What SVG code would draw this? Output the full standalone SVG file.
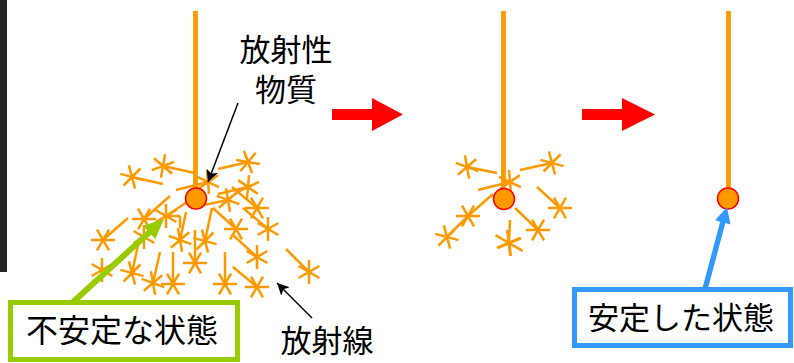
<svg xmlns="http://www.w3.org/2000/svg" xmlns:xlink="http://www.w3.org/1999/xlink" width="794" height="363" viewBox="0 0 794 363">
  <style>
    .ray { stroke: #FF9900; stroke-width: 2.5; fill: none; }
    .string { stroke: #FF9900; stroke-width: 4.8; }
    .ball { fill: #FF9900; stroke: #FF0000; stroke-width: 1.5; }
    .label { font-family: "Liberation Sans", "Noto Sans CJK JP", sans-serif; font-size: 31px; fill: #000; text-anchor: middle; }
    .pointer { stroke: #000; stroke-width: 1.5; fill: none; marker-end: url(#tip); }
  </style>
  <defs>
    <!-- six-spoke burst used for each emitted ray -->
    <g id="ast">
      <line x1="-12" y1="0" x2="12" y2="0"/>
      <line x1="-6" y1="-10.4" x2="6" y2="10.4"/>
      <line x1="-6" y1="10.4" x2="6" y2="-10.4"/>
    </g>
    <marker id="tip" markerUnits="userSpaceOnUse" markerWidth="14" markerHeight="12" refX="12" refY="6" orient="auto">
      <path d="M0,0 L12,6 L0,12 L3,6 Z" fill="#000"/>
    </marker>
  </defs>

  <rect x="0" y="0" width="7" height="272" fill="#232823"/>

  <!-- radiation burst around the unstable source -->
  <g id="rays-left" class="ray">
    <line x1="132" y1="177" x2="163" y2="184"/><use href="#ast" transform="translate(132,177) rotate(15)"/>
    <line x1="163" y1="166" x2="195" y2="173"/><use href="#ast" transform="translate(163,166) rotate(40)"/>
    <line x1="208" y1="182" x2="176" y2="190"/><use href="#ast" transform="translate(208,182) rotate(25)"/>
    <line x1="248" y1="162" x2="218" y2="169"/><use href="#ast" transform="translate(248,162) rotate(10)"/>
    <line x1="248" y1="187" x2="218" y2="194"/><use href="#ast" transform="translate(248,187) rotate(35)"/>
    <line x1="228" y1="200" x2="204" y2="205"/><use href="#ast" transform="translate(228,200) rotate(20)"/>
    <line x1="257" y1="208" x2="232" y2="187"/><use href="#ast" transform="translate(257,208) rotate(0)"/>
    <line x1="268" y1="229" x2="243" y2="208"/><use href="#ast" transform="translate(268,229) rotate(30)"/>
    <line x1="236" y1="229" x2="213" y2="208"/><use href="#ast" transform="translate(236,229) rotate(0)"/>
    <line x1="257" y1="257" x2="233" y2="235"/><use href="#ast" transform="translate(257,257) rotate(30)"/>
    <line x1="257" y1="287" x2="233" y2="267"/><use href="#ast" transform="translate(257,287) rotate(0)"/>
    <line x1="225" y1="284" x2="225" y2="252"/><use href="#ast" transform="translate(225,284) rotate(0)"/>
    <line x1="309" y1="272" x2="286" y2="249"/><use href="#ast" transform="translate(309,272) rotate(30)"/>
    <line x1="205" y1="241" x2="212" y2="208"/><use href="#ast" transform="translate(205,241) rotate(15)"/>
    <line x1="195" y1="263" x2="195" y2="230"/><use href="#ast" transform="translate(195,263) rotate(0)"/>
    <line x1="180" y1="240" x2="186" y2="212"/><use href="#ast" transform="translate(180,240) rotate(20)"/>
    <line x1="166" y1="216" x2="190" y2="200"/><use href="#ast" transform="translate(166,216) rotate(30)"/>
    <line x1="144" y1="219" x2="170" y2="196"/><use href="#ast" transform="translate(144,219) rotate(0)"/>
    <use href="#ast" transform="translate(144,237) rotate(30)"/>
    <line x1="103" y1="240" x2="128" y2="218"/><use href="#ast" transform="translate(103,240) rotate(0)"/>
    <use href="#ast" transform="translate(102,270) rotate(30)"/>
    <line x1="132" y1="273" x2="138" y2="245"/><use href="#ast" transform="translate(132,273) rotate(15)"/>
    <line x1="153" y1="283" x2="160" y2="252"/><use href="#ast" transform="translate(153,283) rotate(20)"/>
    <line x1="173" y1="284" x2="173" y2="252"/><use href="#ast" transform="translate(173,284) rotate(0)"/>
    <line x1="166" y1="216" x2="180" y2="216"/><line x1="180" y1="216" x2="180" y2="228"/>
  </g>

  <!-- fewer rays after partial decay -->
  <g id="rays-mid" class="ray">
    <line x1="467" y1="167" x2="497" y2="173"/><use href="#ast" transform="translate(467,167) rotate(20)"/>
    <line x1="510" y1="182" x2="478" y2="190"/><use href="#ast" transform="translate(510,182) rotate(25)"/>
    <line x1="552" y1="163" x2="520" y2="170"/><use href="#ast" transform="translate(552,163) rotate(15)"/>
    <line x1="560" y1="208" x2="537" y2="187"/><use href="#ast" transform="translate(560,208) rotate(0)"/>
    <line x1="538" y1="230" x2="515" y2="208"/><use href="#ast" transform="translate(538,230) rotate(0)"/>
    <line x1="509" y1="243" x2="510" y2="220"/><use href="#ast" transform="translate(509,243) rotate(30) scale(1.3,1)"/>
    <line x1="468" y1="216" x2="493" y2="194"/><use href="#ast" transform="translate(468,216) rotate(0)"/>
    <line x1="447" y1="237" x2="468" y2="216"/><use href="#ast" transform="translate(447,237) rotate(15)"/>
  </g>

  <g id="source-unstable">
    <line class="string" x1="195.5" y1="11" x2="195.5" y2="189"/>
    <circle class="ball" cx="196" cy="198.5" r="10.5"/>
  </g>
  <g id="source-decaying">
    <line class="string" x1="503.5" y1="11" x2="503.5" y2="189"/>
    <circle class="ball" cx="504" cy="199" r="10.5"/>
  </g>
  <g id="source-stable">
    <line class="string" x1="728.5" y1="11" x2="728.5" y2="189"/>
    <circle class="ball" cx="728" cy="198.5" r="10.5"/>
  </g>

  <g id="label-substance">
    <text class="label" x="286" y="61">放射性</text>
    <text class="label" x="286" y="101">物質</text>
  </g>
  <g id="label-radiation">
    <text class="label" x="327" y="352">放射線</text>
  </g>

  <g id="box-unstable">
    <rect x="10.5" y="302.5" width="227" height="57" fill="#fff" stroke="#99CC00" stroke-width="5"/>
    <text class="label" x="122" y="342" style="font-size:32px">不安定な状態</text>
  </g>
  <g id="box-stable">
    <rect x="574.5" y="289.5" width="216" height="56" fill="#fff" stroke="#3399FF" stroke-width="5"/>
    <text class="label" x="681" y="329" style="font-size:31px">安定した状態</text>
  </g>

  <g id="connectors">
    <polygon fill="#FF0000" points="332,109 372,109 372,98 403,114.5 372,131 372,120 332,120"/>
    <polygon fill="#FF0000" points="582,109 622,109 622,98 655,114.5 622,131 622,120 582,120"/>
    <line class="pointer" x1="238" y1="103" x2="208" y2="182"/>
    <line class="pointer" x1="312" y1="318" x2="277" y2="283"/>
    <polygon fill="#99CC00" points="71,299.8 147.2,230.3 143.1,225.8 164,219 155.3,239.1 151.2,234.7 75,304.2"/>
    <polygon fill="#3399FF" points="702.4,288.3 720.2,221.7 715.1,220.3 727,207 730.5,224.5 725.4,223.1 707.6,289.7"/>
  </g>
</svg>
